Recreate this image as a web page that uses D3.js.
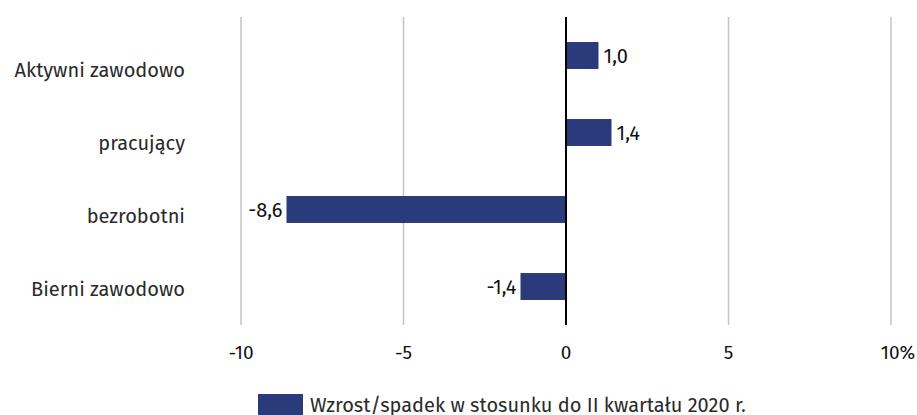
<!DOCTYPE html>
<html><head><meta charset="utf-8">
<script src="https://cdn.jsdelivr.net/npm/d3@7"></script>
<style>body{margin:0;background:#fff}svg{display:block;font-family:"Fira Sans","Open Sans","Noto Sans",sans-serif}</style>
</head><body><svg id="c" width="917" height="415"></svg>
<script>
const categories = ["Aktywni zawodowo", "pracujący", "bezrobotni", "Bierni zawodowo"];
const values = [1.0, 1.4, -8.6, -1.4];
const valueLabels = ["1,0", "1,4", "-8,6", "-1,4"];
const tickValues = [-10, -5, 0, 5, 10];
const tickLabels = ["-10", "-5", "0", "5", "10%"];
const legendLabel = "Wzrost/spadek w stosunku do II kwartału 2020 r.";

const svg = d3.select("#c");
const x = d3.scaleLinear().domain([-10, 10]).range([241, 891]);
const y = d3.scaleBand().domain(categories).range([17, 325]).paddingInner(0.65).paddingOuter(0.325);
const yLabel = d3.scalePoint().domain(categories).range([76.5, 295.5]);
const barColor = "#2b3a7b";

// gridlines
svg.append("g").selectAll("line").data(tickValues.filter(d => d !== 0)).join("line")
  .attr("x1", d => x(d)).attr("x2", d => x(d)).attr("y1", 17).attr("y2", 325)
  .attr("stroke", "#c4c4c4").attr("stroke-width", 1.5);

// bars
svg.append("g").selectAll("rect").data(values).join("rect")
  .attr("x", d => x(Math.min(0, d))).attr("width", d => Math.abs(x(d) - x(0)))
  .attr("y", (d, i) => y(categories[i])).attr("height", y.bandwidth())
  .attr("fill", barColor);

// zero line
svg.append("line").attr("x1", x(0)).attr("x2", x(0)).attr("y1", 17).attr("y2", 325)
  .attr("stroke", "#000").attr("stroke-width", 2);

// value labels
svg.append("g").selectAll("text").data(values).join("text")
  .attr("x", d => d >= 0 ? x(d) + 5 : x(d) - 4)
  .attr("y", (d, i) => y(categories[i]) + y.bandwidth() / 2 + 7.5)
  .attr("text-anchor", d => d >= 0 ? "start" : "end")
  .attr("font-size", 20).attr("fill", "#111")
  .text((d, i) => valueLabels[i]);

// category labels
svg.append("g").selectAll("text").data(categories).join("text")
  .attr("x", 185).attr("y", d => yLabel(d))
  .attr("text-anchor", "end").attr("font-size", 20).attr("fill", "#2a2a2a")
  .text(d => d);

// tick labels
svg.append("g").selectAll("text").data(tickValues).join("text")
  .attr("x", d => x(d)).attr("dx", (d, i) => i === tickValues.length - 1 ? 7 : 0)
  .attr("y", 359).attr("text-anchor", "middle").attr("font-size", 19).attr("fill", "#111")
  .text((d, i) => tickLabels[i]);

// legend
svg.append("rect").attr("x", 258).attr("y", 394).attr("width", 45).attr("height", 21).attr("fill", barColor);
svg.append("text").attr("x", 310).attr("y", 411.5).attr("font-size", 20).attr("fill", "#2a2a2a").text(legendLabel);
</script></body></html>
